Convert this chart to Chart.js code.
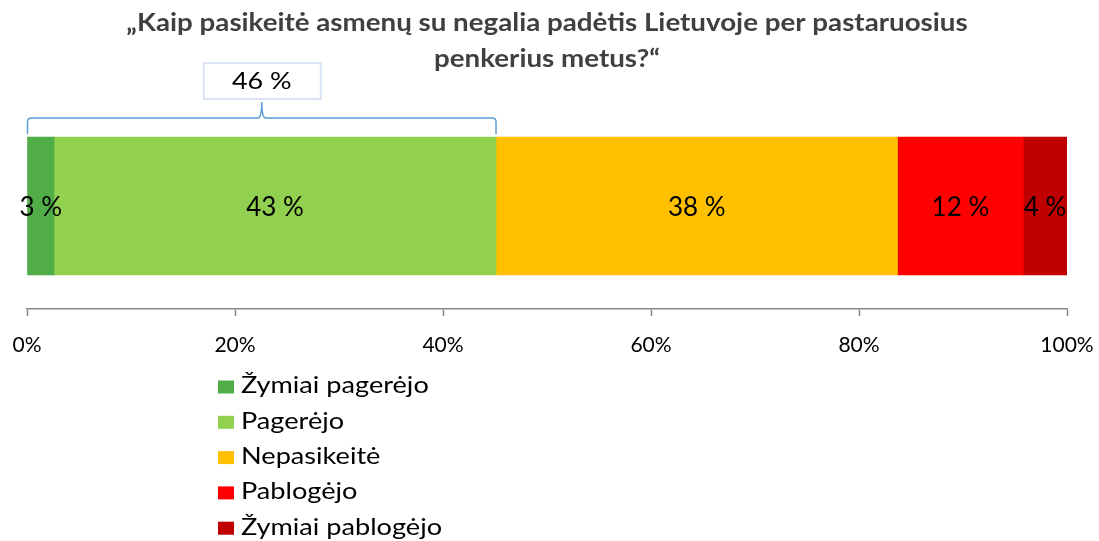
<!DOCTYPE html>
<html><head><meta charset="utf-8">
<script src="https://cdn.jsdelivr.net/npm/chart.js@4/dist/chart.umd.min.js"></script>
<style>html,body{margin:0;padding:0;background:#fff}#wrap{width:1099px;height:541px}</style>
</head><body><div id="wrap"><canvas id="c" width="1099" height="541"></canvas></div>
<script>
const categories = ['Atsakymai'];
const seriesNames = ['Žymiai pagerėjo','Pagerėjo','Nepasikeitė','Pablogėjo','Žymiai pablogėjo'];
const seriesValues = [2.6, 42.5, 38.6, 12.1, 4.2];
const valueLabels = ['3 %','43 %','38 %','12 %','4 %'];
const seriesColors = ['#50ad48','#92d050','#ffc000','#ff0000','#c00000'];
const xTickStep = 20;
const titleLines = ['„Kaip pasikeitė asmenų su negalia padėtis Lietuvoje per pastaruosius','penkerius metus?“'];
const bracketLabel = '46 %';
const bracketSeries = [0, 1];

const FONT = 'Lato, "Open Sans", sans-serif';

function stretchText(ctx, text, x, y, sx) {
  ctx.save();
  ctx.translate(x, y);
  ctx.scale(sx, 1);
  ctx.fillText(text, 0, 0);
  ctx.restore();
}

const overlay = {
  id: 'overlay',
  afterDraw(chart) {
    const ctx = chart.ctx;
    ctx.save();
    // title
    ctx.fillStyle = '#404040';
    ctx.font = 'bold 24px ' + FONT;
    ctx.textAlign = 'center';
    ctx.textBaseline = 'middle';
    titleLines.forEach((t, i) => stretchText(ctx, t, 547, 23 + i * 36, 1.155));
    // data labels
    ctx.fillStyle = '#000';
    ctx.font = '26px ' + FONT;
    chart.data.datasets.forEach((ds, i) => {
      const el = chart.getDatasetMeta(i).data[0];
      ctx.fillText(valueLabels[i], (el.x + el.base) / 2, el.y + 2);
    });
    // bracket
    const e0 = chart.getDatasetMeta(bracketSeries[0]).data[0];
    const e1 = chart.getDatasetMeta(bracketSeries[1]).data[0];
    const x0 = Math.min(e0.base, e0.x), x1 = Math.max(e1.x, e1.base);
    const mid = (x0 + x1) / 2;
    const yt = 118, yb = 134, r = 4;
    ctx.strokeStyle = '#5b9bd5';
    ctx.lineWidth = 1.5;
    ctx.beginPath();
    ctx.moveTo(x0, yb);
    ctx.lineTo(x0, yt + r);
    ctx.quadraticCurveTo(x0, yt, x0 + r, yt);
    ctx.lineTo(mid - 4, yt);
    ctx.quadraticCurveTo(mid, yt, mid, 102);
    ctx.quadraticCurveTo(mid, yt, mid + 4, yt);
    ctx.lineTo(x1 - r, yt);
    ctx.quadraticCurveTo(x1, yt, x1, yt + r);
    ctx.lineTo(x1, yb);
    ctx.stroke();
    // bracket label box
    ctx.strokeStyle = '#dae3f3';
    ctx.lineWidth = 2;
    ctx.strokeRect(mid - 58, 63, 117, 36);
    ctx.fillStyle = '#000';
    ctx.font = '24px ' + FONT;
    stretchText(ctx, bracketLabel, mid, 81, 1.12);
    // legend
    ctx.textAlign = 'left';
    ctx.font = '23px ' + FONT;
    chart.data.datasets.forEach((ds, i) => {
      const y = 387 + i * 35.3;
      ctx.fillStyle = ds.backgroundColor;
      ctx.fillRect(218, y - 6.5, 16, 13);
      ctx.fillStyle = '#000';
      stretchText(ctx, ds.label, 241, y - 1, 1.18);
    });
    ctx.restore();
  }
};

new Chart(document.getElementById('c'), {
  type: 'bar',
  data: {
    labels: categories,
    datasets: seriesNames.map((n, i) => ({
      label: n,
      data: [seriesValues[i]],
      backgroundColor: seriesColors[i],
      borderWidth: 0,
      barThickness: 138
    }))
  },
  options: {
    indexAxis: 'y',
    responsive: false,
    animation: false,
    layout: { padding: { top: 103, left: 27, right: 32, bottom: 172 } },
    plugins: { legend: { display: false }, title: { display: false }, tooltip: { enabled: false } },
    scales: {
      x: {
        stacked: true, min: 0, max: 100,
        ticks: { stepSize: xTickStep, callback: v => v + '%', color: '#000', font: { family: FONT, size: 21 }, padding: 17, maxRotation: 0 },
        grid: { drawOnChartArea: false, drawTicks: true, tickLength: 7, tickColor: '#888', tickWidth: 1.5 },
        border: { color: '#888', width: 1.5 },
        afterFit: s => { s.height = 60; s.paddingLeft = 0; s.paddingRight = 0; }
      },
      y: { stacked: true, display: false }
    }
  },
  plugins: [overlay]
});
</script></body></html>
